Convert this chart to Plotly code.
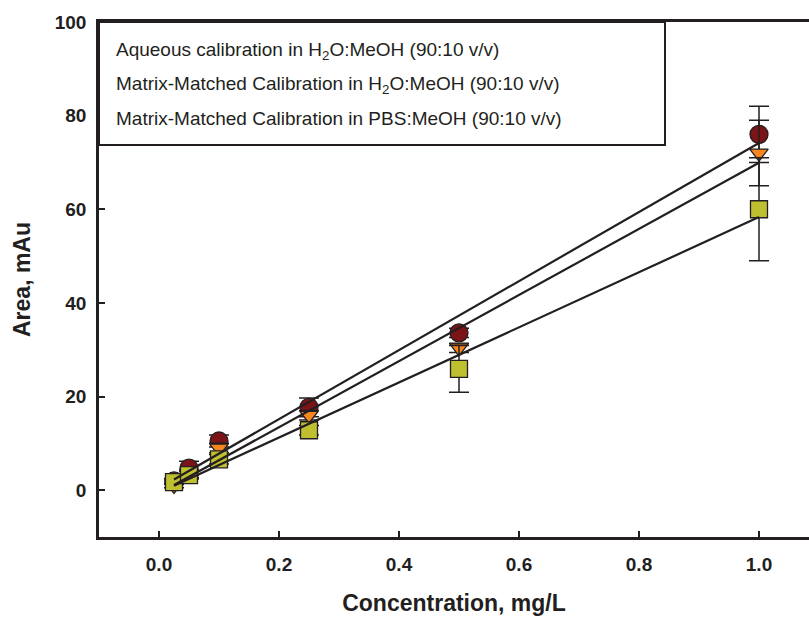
import numpy as np
import plotly.graph_objects as go

conc = [0.025, 0.05, 0.1, 0.25, 0.5, 1.0]
aqueous = [2.0, 4.7, 10.5, 17.7, 33.6, 76.0]
aqueous_err = [0.5, 1.5, 1.3, 2.0, 1.0, 6.0]
mm_h2o = [1.0, 3.5, 9.0, 16.0, 30.4, 72.0]
mm_h2o_err = [0.5, 0.8, 1.0, 1.0, 1.0, 7.0]
mm_pbs = [1.7, 3.2, 6.6, 12.8, 25.9, 60.0]
mm_pbs_err = [0.5, 0.8, 1.0, 1.0, 5.0, 11.0]

legend_labels = [
    "Aqueous calibration in H<sub>2</sub>O:MeOH (90:10 v/v)",
    "Matrix-Matched Calibration in H<sub>2</sub>O:MeOH (90:10 v/v)",
    "Matrix-Matched Calibration in PBS:MeOH (90:10 v/v)",
]

x_ticks = [0.0, 0.2, 0.4, 0.6, 0.8, 1.0]
y_ticks = [0, 20, 40, 60, 80, 100]

FONT = "Liberation Sans, Arial, sans-serif"
INK = "#231F20"

series = [
    (aqueous, aqueous_err, "circle", "#7B1416", 18, legend_labels[0]),
    (mm_h2o, mm_h2o_err, "triangle-down", "#F7861F", 16, legend_labels[1]),
    (mm_pbs, mm_pbs_err, "square", "#BFC02F", 17, legend_labels[2]),
]

fig = go.Figure()
for ys, err, sym, col, size, name in series:
    fig.add_trace(go.Scatter(
        x=conc, y=ys, mode="markers", name=name, showlegend=False,
        marker=dict(symbol=sym, color=col, size=size, line=dict(color=INK, width=1.3)),
        error_y=dict(type="data", array=err, visible=True, color=INK, thickness=1.5, width=10),
    ))

xs_fit = np.array([conc[0], conc[-1]])
for ys, err, sym, col, size, name in series:
    k, b = np.polyfit(conc, ys, 1)
    fig.add_trace(go.Scatter(
        x=xs_fit, y=k * xs_fit + b, mode="lines", showlegend=False,
        line=dict(color=INK, width=2.2), hoverinfo="skip",
    ))

W, H = 809, 619
L, R, T, B = 99, 0, 22, 82
pw, ph = W - L - R, H - T - B

def px(xp):
    return (xp - L) / pw

def py(yp):
    return 1 - (yp - T) / ph

fig.add_shape(type="rect", xref="paper", yref="paper",
              x0=0, x1=px(665), y0=py(145), y1=1,
              line=dict(color=INK, width=2), fillcolor="white", layer="above")

for yp, txt in zip([51, 85, 119], legend_labels):
    fig.add_annotation(xref="paper", yref="paper", x=px(114), y=py(yp),
                       text=txt, showarrow=False, xanchor="left", yanchor="middle",
                       font=dict(family=FONT, size=19, color=INK))

fig.update_layout(
    width=W, height=H,
    margin=dict(l=L, r=R, t=T, b=B, pad=0),
    paper_bgcolor="white", plot_bgcolor="white",
    font=dict(family=FONT, color=INK),
)
fig.update_xaxes(
    range=[-0.1, -0.1 + pw / 600.0],
    tickvals=x_ticks, ticktext=[f"{v:.1f}" for v in x_ticks],
    ticks="inside", ticklen=6, tickwidth=2, tickcolor=INK,
    showline=True, linecolor=INK, linewidth=2.5, mirror=True,
    showgrid=False, zeroline=False, ticklabelstandoff=8,
    tickfont=dict(family=FONT, size=19, color=INK, weight="bold"),
    title=dict(text="<b>Concentration, mg/L</b>", font=dict(family=FONT, size=23, color=INK), standoff=22),
)
fig.update_yaxes(
    range=[-10, 100],
    tickvals=y_ticks,
    ticks="inside", ticklen=6, tickwidth=2, tickcolor=INK,
    showline=True, linecolor=INK, linewidth=2.5, mirror=False,
    showgrid=False, zeroline=False, ticklabelstandoff=6,
    tickfont=dict(family=FONT, size=19, color=INK, weight="bold"),
    title=dict(text="<b>Area, mAu</b>", font=dict(family=FONT, size=23, color=INK), standoff=18),
)

fig.write_html("out.html")
